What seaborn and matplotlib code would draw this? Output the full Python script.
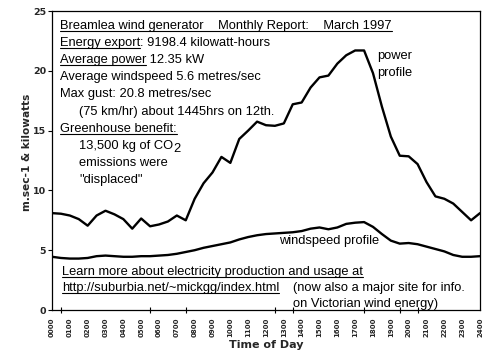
import numpy as np
import pandas as pd
import matplotlib
matplotlib.use("Agg")
import matplotlib.pyplot as plt
from matplotlib.lines import Line2D
import seaborn as sns

# ---- data ----
hours = [0.0, 0.5, 1.0, 1.5, 2.0, 2.5, 3.0, 3.5, 4.0, 4.5, 5.0, 5.5, 6.0, 6.5,
         7.0, 7.5, 8.0, 8.5, 9.0, 9.5, 10.0, 10.5, 11.0, 11.5, 12.0, 12.5,
         13.0, 13.5, 14.0, 14.5, 15.0, 15.5, 16.0, 16.5, 17.0, 17.5, 18.0,
         18.5, 19.0, 19.5, 20.0, 20.5, 21.0, 21.5, 22.0, 22.5, 23.0, 23.5, 24.0]
power = [8.1, 8.05, 7.9, 7.6, 7.05, 7.9, 8.3, 8.0, 7.6, 6.8, 7.65, 7.0, 7.15,
         7.4, 7.9, 7.5, 9.3, 10.6, 11.5, 12.8, 12.3, 14.3, 15.0, 15.75, 15.45,
         15.4, 15.6, 17.2, 17.35, 18.6, 19.45, 19.6, 20.6, 21.3, 21.7, 21.7,
         19.8, 17.0, 14.5, 12.9, 12.85, 12.2, 10.7, 9.5, 9.3, 8.9, 8.2, 7.5, 8.1]
windspeed = [4.45, 4.35, 4.3, 4.3, 4.35, 4.5, 4.55, 4.5, 4.45, 4.45, 4.5, 4.5,
             4.55, 4.6, 4.7, 4.85, 5.0, 5.2, 5.35, 5.5, 5.65, 5.9, 6.1, 6.25,
             6.35, 6.4, 6.45, 6.5, 6.6, 6.8, 6.9, 6.75, 6.9, 7.2, 7.3, 7.35,
             6.95, 6.35, 5.8, 5.55, 5.6, 5.5, 5.3, 5.1, 4.9, 4.6, 4.45, 4.45, 4.5]
tick_labels = ["%02d00" % h for h in range(25)]
minor_tick_hours = [0, 0.5, 5, 5.5, 7, 7.5, 8, 12, 12.5, 13, 13.5, 17.5,
                    19.5, 20, 20.5, 21, 24]

df = pd.DataFrame({"hour": hours, "power": power, "windspeed": windspeed})

sns.set_style("white")
plt.rcParams["font.family"] = ["Liberation Sans", "DejaVu Sans"]

W, H = 498, 362
fig = plt.figure(figsize=(W / 100, H / 100), dpi=100)
ax = fig.add_axes([52 / W, 1 - 310 / H, (480 - 52) / W, (310 - 11) / H])

sns.lineplot(data=df, x="hour", y="power", ax=ax, color="black", lw=1.7)
sns.lineplot(data=df, x="hour", y="windspeed", ax=ax, color="black", lw=1.7)

ax.set_xlim(0, 24)
ax.set_ylim(0, 25)
ax.set_yticks([0, 5, 10, 15, 20, 25])
ax.set_yticklabels(["0", "5", "10", "15", "20", "25"], fontsize=6.8,
                   fontweight="bold", family="DejaVu Sans")
ax.set_xticks(range(25))
ax.set_xticklabels(tick_labels, rotation=90, fontsize=5.0, fontweight="bold",
                   family="DejaVu Sans")
ax.set_xticks(minor_tick_hours, minor=True)
ax.tick_params(axis="x", which="major", length=0, pad=5.6)
ax.tick_params(axis="x", which="minor", length=4, direction="inout",
               width=0.8, color="black", bottom=True)
ax.tick_params(axis="y", which="major", length=3, direction="out", width=0.8,
               color="black", left=True, pad=1.2)
for s in ax.spines.values():
    s.set_color("black")
    s.set_linewidth(0.9)

ax.set_xlabel("Time of Day", fontsize=8, fontweight="bold",
              family="DejaVu Sans")
ax.xaxis.set_label_coords(0.5016, -0.099)
ax.set_ylabel("m.sec-1 & kilowatts", fontsize=7.6, fontweight="bold",
              family="DejaVu Sans")
ax.yaxis.set_label_coords(-0.047, 0.528)

renderer = fig.canvas.get_renderer()
FS = 9.25


def put(x, y, parts, fs=FS):
    """Place text pieces sequentially at pixel x, baseline y (from top)."""
    cx = x
    for p in parts:
        s, ul = p[0], p[1]
        dy = p[2] if len(p) > 2 else 0
        t = fig.text(cx / W, 1 - (y + dy) / H, s, fontsize=fs,
                     va="baseline", ha="left", color="black")
        bb = t.get_window_extent(renderer)
        x0 = cx
        x1 = cx + bb.width
        if ul:
            uy = 1 - (y + 2.4) / H
            fig.add_artist(Line2D([x0 / W, x1 / W], [uy, uy],
                                  transform=fig.transFigure, color="black",
                                  lw=0.8))
        cx = x1


put(60, 28.5, [("Breamlea wind generator    Monthly Report:    March 1997", True)])
put(60, 45.8, [("Energy export", True), (": 9198.4 kilowatt-hours", False)])
put(60, 63.0, [("Average power", True), (" 12.35 kW", False)])
put(60, 80.2, [("Average windspeed 5.6 metres/sec", False)])
put(60, 97.4, [("Max gust: 20.8 metres/sec", False)])
put(79, 114.6, [("(75 km/hr) about 1445hrs on 12th.", False)])
put(60, 131.8, [("Greenhouse benefit:", True)])
put(79, 149.0, [("13,500 kg of CO", False), ("2", False, 3)])
put(79, 166.2, [("emissions were", False)])
put(79, 183.4, [('"displaced"', False)])

put(377, 59, [("power", False)])
put(377, 76, [("profile", False)])
put(279, 244, [("windspeed profile", False)])

put(62, 274.5, [("Learn more about electricity production and usage at", True)])
put(62, 291, [("http://suburbia.net/~mickgg/index.html", True)])
put(293, 290.5, [("(now also a major site for info.", False)])
put(293, 307, [("on Victorian wind energy)", False)])

fig.savefig("out.png", dpi=100)
